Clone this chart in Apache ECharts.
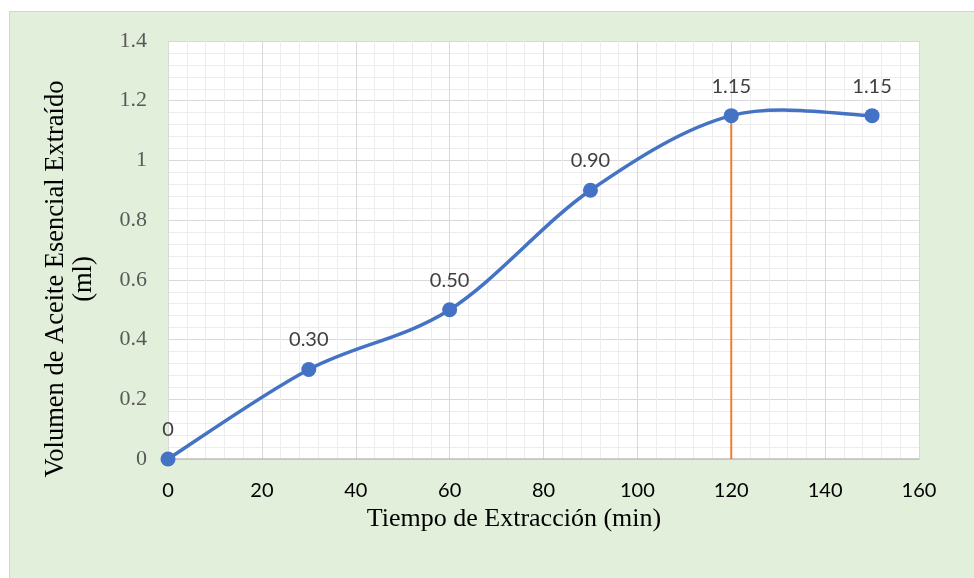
<!DOCTYPE html>
<html><head><meta charset="utf-8">
<script src="https://cdn.jsdelivr.net/npm/echarts@6/dist/echarts.min.js"></script>
<style>
html,body{margin:0;padding:0;background:#fff;width:974px;height:578px;overflow:hidden}
#box{position:absolute;left:9px;top:11px;width:964px;height:566px;background:#E2EFDA;border:1px solid #D4D4D4;border-right:none;border-bottom:none}
#c{width:964px;height:566px}
</style></head><body>
<div id="box"><div id="c"></div></div>
<script>
const tiempos = [0, 30, 60, 90, 120, 150];
const volumenes = [0, 0.30, 0.50, 0.90, 1.15, 1.15];
const etiquetas = ['0', '0.30', '0.50', '0.90', '1.15', '1.15'];
const lineaX = [120, 120];
const lineaY = [0, 1.15];

const chart = echarts.init(document.getElementById('c'));
const serif = '"Liberation Serif","Times New Roman",serif';
const sans = 'Lato,"Open Sans",sans-serif';
const puntos = tiempos.map((t, i) => [t, volumenes[i]]);
const n = puntos.length;

function renderCurva(params, api) {
  const i = params.dataIndex;
  if (i >= n - 1) return null;
  const P = k => api.coord(puntos[Math.max(0, Math.min(n - 1, k))]);
  const p0 = P(i - 1), p1 = P(i), p2 = P(i + 1), p3 = P(i + 2);
  return {
    type: 'bezierCurve',
    shape: {
      x1: p1[0], y1: p1[1], x2: p2[0], y2: p2[1],
      cpx1: p1[0] + (p2[0] - p0[0]) / 6, cpy1: p1[1] + (p2[1] - p0[1]) / 6,
      cpx2: p2[0] - (p3[0] - p1[0]) / 6, cpy2: p2[1] - (p3[1] - p1[1]) / 6
    },
    style: {stroke: '#4472C4', lineWidth: 3.5, fill: null, lineCap: 'round'}
  };
}

chart.setOption({
  animation: false,
  grid: {left: 158, right: 55, top: 29, bottom: 119, show: true, backgroundColor: '#fff', borderWidth: 0},
  xAxis: {
    type: 'value', min: 0, max: 160, interval: 20,
    name: 'Tiempo de Extracción (min)', nameLocation: 'middle', nameGap: 45,
    nameTextStyle: {fontFamily: serif, fontSize: 26, color: '#000', padding: [0, 59, 0, 0]},
    axisLine: {show: true, lineStyle: {color: '#BFBFBF', width: 1.5}},
    axisTick: {show: false},
    axisLabel: {fontFamily: sans, fontSize: 20, color: '#000', margin: 22},
    splitLine: {show: true, lineStyle: {color: '#D9D9D9', width: 1}},
    minorTick: {show: false, splitNumber: 5},
    minorSplitLine: {show: true, lineStyle: {color: '#EDEDED', width: 1}}
  },
  yAxis: {
    type: 'value', min: 0, max: 1.4, interval: 0.2,
    name: 'Volumen de Aceite Esencial Extraído\n(ml)', nameLocation: 'middle', nameGap: 70, nameRotate: 90,
    nameTextStyle: {fontFamily: serif, fontSize: 26.5, color: '#000', lineHeight: 28, padding: [0, 58, 0, 0]},
    axisLine: {show: false},
    axisTick: {show: false},
    axisLabel: {fontFamily: serif, fontSize: 22, color: '#595959', margin: 21,
      formatter: v => String(Math.round(v * 10) / 10)},
    splitLine: {show: true, lineStyle: {color: '#D9D9D9', width: 1}},
    minorTick: {show: false, splitNumber: 5},
    minorSplitLine: {show: true, lineStyle: {color: '#EDEDED', width: 1}}
  },
  series: [
    {
      type: 'line', data: lineaX.map((x, i) => [x, lineaY[i]]),
      symbol: 'none', lineStyle: {color: '#ED7D31', width: 2}, z: 1, silent: true
    },
    {
      type: 'custom', data: puntos, encode: {x: 0, y: 1},
      renderItem: renderCurva, z: 2, silent: true
    },
    {
      type: 'scatter', data: puntos,
      symbol: 'circle', symbolSize: 15,
      itemStyle: {color: '#4472C4', opacity: 1},
      label: {show: true, position: 'top', distance: 12, fontFamily: sans, fontSize: 20, color: '#404040',
        formatter: p => etiquetas[p.dataIndex]},
      z: 3
    }
  ]
});
</script>
</body></html>
